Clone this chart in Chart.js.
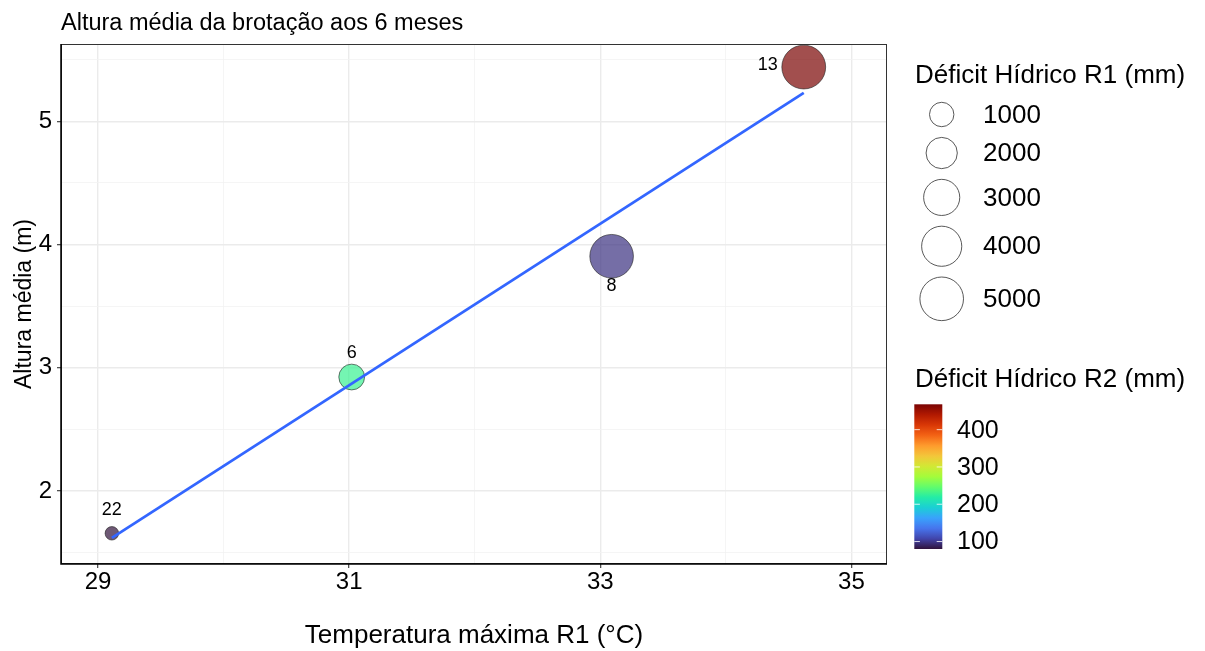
<!DOCTYPE html>
<html><head><meta charset="utf-8">
<script src="https://cdn.jsdelivr.net/npm/chart.js@4.4.1/dist/chart.umd.min.js"></script>
<style>html,body{margin:0;padding:0;background:#fff;}#wrap{width:1205px;height:651px;position:relative;}</style>
</head><body><div id="wrap"><canvas id="c" width="1205" height="651"></canvas></div>
<script>
// ---- data ----
const pointLabels = ['22', '6', '8', '13'];
const tempMax = [29.11, 31.02, 33.09, 34.62];
const alturaMedia = [1.657, 2.925, 3.905, 5.44];
const deficitR1 = [380, 1140, 4930, 5000];
const deficitR2 = [80, 228, 97, 468];
const fitX = [29.11, 34.62];
const fitY = [1.62, 5.23];
const xTicks = [29, 31, 33, 35];
const xMinor = [30, 32, 34];
const yTicks = [2, 3, 4, 5];
const yMinor = [1.5, 2.5, 3.5, 4.5, 5.5];
const sizeBreaks = [1000, 2000, 3000, 4000, 5000];
const colorBreaks = [100, 200, 300, 400];
const titleText = 'Altura média da brotação aos 6 meses';
const xTitle = 'Temperatura máxima R1 (°C)';
const yTitle = 'Altura média (m)';
const sizeTitle = 'Déficit Hídrico R1 (mm)';
const colorTitle = 'Déficit Hídrico R2 (mm)';

const FONT = '"Liberation Sans", Arial, Helvetica, sans-serif';
Chart.defaults.font.family = FONT;
Chart.defaults.color = '#000';

// turbo palette stops
const TURBO = ['#30123B', '#4145AB', '#4675ED', '#39A2FC', '#1BCFD4', '#24ECA6', '#61FC6C', '#A4FC3B',
               '#D1E834', '#F3C63A', '#FE9B2D', '#F36315', '#D93806', '#B11901', '#7A0403'];
const TURBO_RGB = TURBO.map(h => [1, 3, 5].map(k => parseInt(h.substr(k, 2), 16)));
function turbo(t) {
  t = Math.max(0, Math.min(1, t));
  const p = t * (TURBO_RGB.length - 1);
  const i = Math.min(TURBO_RGB.length - 2, Math.floor(p));
  const f = p - i;
  return TURBO_RGB[i].map((c, k) => Math.round(c + (TURBO_RGB[i + 1][k] - c) * f));
}
const r2Min = Math.min(...deficitR2), r2Max = Math.max(...deficitR2);
function r2Color(v, a) {
  const [r, g, b] = turbo((v - r2Min) / (r2Max - r2Min));
  return `rgba(${r},${g},${b},${a})`;
}
const r1Min = Math.min(...deficitR1);
function outerRadius(v) { return 7.15 + 0.223 * Math.sqrt(Math.max(0, v - r1Min)); }

const isMajorX = v => xTicks.includes(v);
const isMajorY = v => yTicks.includes(v);

const labelOffsets = [[0, -23], [0, -24], [0, 30], [-36, -2]];

const overlay = {
  id: 'overlay',
  afterDatasetsDraw(chart) {
    const ctx = chart.ctx;
    const meta = chart.getDatasetMeta(1);
    ctx.save();
    ctx.fillStyle = '#000';
    ctx.font = '18px ' + FONT;
    ctx.textAlign = 'center';
    ctx.textBaseline = 'middle';
    meta.data.forEach((el, i) => {
      ctx.fillText(pointLabels[i], el.x + labelOffsets[i][0], el.y + labelOffsets[i][1]);
    });
    ctx.restore();
  },
  afterDraw(chart) {
    const ctx = chart.ctx;
    const ca = chart.chartArea;
    ctx.save();
    // panel border
    ctx.strokeStyle = '#333333';
    ctx.lineWidth = 1;
    ctx.strokeRect(ca.left + 0.5, ca.top + 0.5, ca.right - ca.left - 1, ca.bottom - ca.top - 1);
    ctx.strokeStyle = '#000';
    ctx.lineWidth = 1.5;
    ctx.beginPath();
    ctx.moveTo(ca.left, ca.top); ctx.lineTo(ca.left, ca.bottom); ctx.lineTo(ca.right, ca.bottom);
    ctx.stroke();

    // title
    ctx.fillStyle = '#000';
    ctx.textAlign = 'left';
    ctx.textBaseline = 'alphabetic';
    ctx.font = '23.5px ' + FONT;
    ctx.fillText(titleText, 61, 29.5);

    // size legend
    ctx.font = '26px ' + FONT;
    ctx.fillText(sizeTitle, 915, 82.5);
    let y = 114.5, prevR = null;
    const cx = 941.7;
    sizeBreaks.forEach((v, i) => {
      const r = outerRadius(v);
      if (prevR !== null) y += prevR + r + 9.7;
      ctx.beginPath();
      ctx.arc(cx, y, r - 0.5, 0, Math.PI * 2);
      ctx.strokeStyle = 'rgba(60,60,60,0.85)';
      ctx.lineWidth = 1;
      ctx.stroke();
      ctx.fillStyle = '#000';
      ctx.textBaseline = 'middle';
      ctx.fillText(String(v), 983, y + 1);
      prevR = r;
    });

    // colour legend
    ctx.textBaseline = 'alphabetic';
    ctx.fillText(colorTitle, 915, 387);
    const bx = 914.3, bw = 28, by0 = 404.3, by1 = 549;
    const grad = ctx.createLinearGradient(0, by1, 0, by0);
    for (let k = 0; k <= 56; k++) {
      const [r, g, b] = turbo(k / 56);
      grad.addColorStop(k / 56, `rgb(${r},${g},${b})`);
    }
    ctx.fillStyle = grad;
    ctx.fillRect(bx, by0, bw, by1 - by0);
    ctx.textBaseline = 'middle';
    ctx.font = '25px ' + FONT;
    colorBreaks.forEach(v => {
      const yy = by1 - (v - r2Min) / (r2Max - r2Min) * (by1 - by0);
      ctx.strokeStyle = 'rgba(255,255,255,0.8)';
      ctx.lineWidth = 1;
      ctx.beginPath();
      ctx.moveTo(bx, yy); ctx.lineTo(bx + 5.6, yy);
      ctx.moveTo(bx + bw - 5.6, yy); ctx.lineTo(bx + bw, yy);
      ctx.stroke();
      ctx.fillStyle = '#000';
      ctx.fillText(String(v), 957, yy + 1);
    });
    ctx.restore();
  }
};

new Chart(document.getElementById('c'), {
  type: 'bubble',
  data: {
    datasets: [
      {
        type: 'line',
        data: fitX.map((x, i) => ({ x: x, y: fitY[i] })),
        borderColor: '#3366FF',
        borderWidth: 2.8,
        pointRadius: 0,
        fill: false,
        tension: 0,
        order: 0
      },
      {
        type: 'bubble',
        data: tempMax.map((x, i) => ({ x: x, y: alturaMedia[i], r: outerRadius(deficitR1[i]) - 0.4 })),
        backgroundColor: deficitR2.map(v => r2Color(v, 0.7)),
        borderColor: 'rgba(30,30,30,0.75)',
        borderWidth: 0.8,
        order: 1
      }
    ]
  },
  options: {
    responsive: false,
    animation: false,
    events: [],
    layout: { padding: { top: 44, right: 318, left: 0, bottom: 0 } },
    plugins: { legend: { display: false }, tooltip: { enabled: false } },
    scales: {
      x: {
        type: 'linear',
        min: 28.705, max: 35.283,
        afterBuildTicks: s => { s.ticks = [...xTicks, ...xMinor].sort((a, b) => a - b).map(v => ({ value: v })); },
        afterFit: s => { s.height = 87; },
        border: { display: false },
        grid: {
          color: c => (c.tick && isMajorX(c.tick.value)) ? '#EBEBEB' : '#F3F3F3',
          lineWidth: c => (c.tick && isMajorX(c.tick.value)) ? 1.4 : 0.8,
          tickColor: c => (c.tick && isMajorX(c.tick.value)) ? '#333333' : 'rgba(0,0,0,0)',
          tickLength: 4,
          tickWidth: 1.1
        },
        ticks: {
          autoSkip: false, maxRotation: 0, padding: 0,
          font: { size: 24 }, color: '#000',
          callback: v => isMajorX(v) ? String(v) : ''
        },
        title: { display: true, text: xTitle, font: { size: 26 }, color: '#000', padding: { top: 0, bottom: 0 } }
      },
      y: {
        type: 'linear',
        min: 1.408, max: 5.627,
        afterBuildTicks: s => { s.ticks = [...yTicks, ...yMinor].sort((a, b) => a - b).map(v => ({ value: v })); },
        afterFit: s => { s.width = 61; },
        border: { display: false },
        grid: {
          color: c => (c.tick && isMajorY(c.tick.value)) ? '#EBEBEB' : '#F3F3F3',
          lineWidth: c => (c.tick && isMajorY(c.tick.value)) ? 1.4 : 0.8,
          tickColor: c => (c.tick && isMajorY(c.tick.value)) ? '#333333' : 'rgba(0,0,0,0)',
          tickLength: 4,
          tickWidth: 1.1
        },
        ticks: {
          autoSkip: false, padding: 5,
          font: { size: 24 }, color: '#000',
          callback: v => isMajorY(v) ? String(v) : ''
        },
        title: { display: true, text: yTitle, font: { size: 23 }, color: '#000', padding: { top: 11, bottom: 0 } }
      }
    }
  },
  plugins: [overlay]
});
</script></body></html>
